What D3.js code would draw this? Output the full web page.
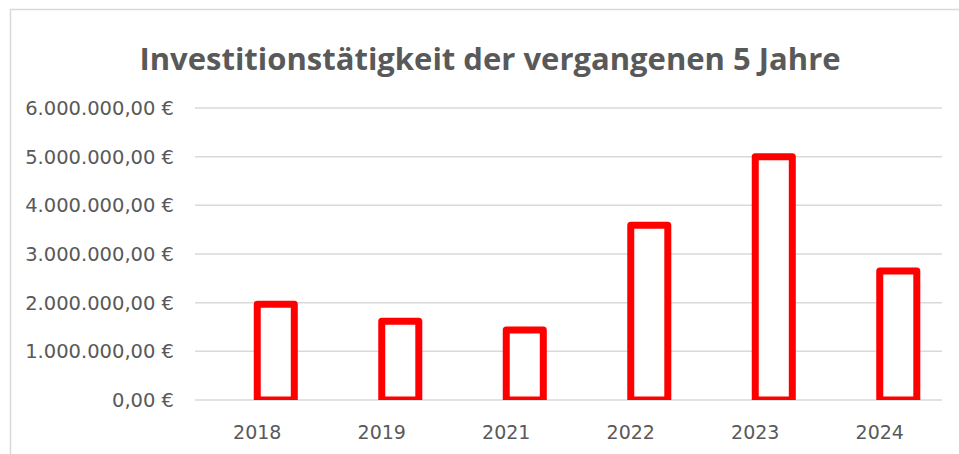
<!DOCTYPE html>
<html>
<head>
<meta charset="utf-8">
<script src="https://cdn.jsdelivr.net/npm/d3@7"></script>
<style>
  body { margin: 0; background: #fff; }
  svg { display: block; }
</style>
</head>
<body>
<svg id="chart" width="959" height="454"></svg>
<script>
const years = ['2018', '2019', '2021', '2022', '2023', '2024'];
const investments = [1970000, 1620000, 1440000, 3590000, 5000000, 2650000];
const yTicks = [0, 1000000, 2000000, 3000000, 4000000, 5000000, 6000000];
const title = 'Investitionstätigkeit der vergangenen 5 Jahre';

const svg = d3.select('#chart');
const width = +svg.attr('width');
const height = +svg.attr('height');
const margin = { top: 108, right: 17, bottom: 54, left: 195 };
const textColor = '#595959';

const de = d3.formatLocale({
  decimal: ',',
  thousands: '.',
  grouping: [3],
  currency: ['', ' €']
});
const fmt = de.format('$,.2f');

// chart area border
svg.append('rect')
  .attr('x', 10.5).attr('y', 9.5)
  .attr('width', width).attr('height', height)
  .attr('fill', 'none')
  .attr('stroke', '#d9d9d9')
  .attr('stroke-width', 1.5);

svg.append('text')
  .attr('x', 490)
  .attr('y', 70)
  .attr('text-anchor', 'middle')
  .style('font-family', '"Open Sans", sans-serif')
  .style('font-weight', 'bold')
  .style('font-size', '31px')
  .attr('fill', textColor)
  .text(title);

const x = d3.scaleBand()
  .domain(years)
  .range([margin.left, width - margin.right]);

const y = d3.scaleLinear()
  .domain([0, 6000000])
  .range([height - margin.bottom, margin.top]);

// gridlines
svg.append('g')
  .selectAll('line')
  .data(yTicks)
  .enter()
  .append('line')
  .attr('x1', margin.left)
  .attr('x2', width - margin.right)
  .attr('y1', d => y(d))
  .attr('y2', d => y(d))
  .attr('stroke', '#d9d9d9')
  .attr('stroke-width', 1.5);

// y labels
svg.append('g')
  .selectAll('text')
  .data(yTicks)
  .enter()
  .append('text')
  .attr('x', 174)
  .attr('y', d => y(d))
  .attr('dy', '0.36em')
  .attr('text-anchor', 'end')
  .style('font-family', '"DejaVu Sans", sans-serif')
  .style('font-size', '19.5px')
  .attr('fill', textColor)
  .text(d => fmt(d));

// x labels
svg.append('g')
  .selectAll('text')
  .data(years)
  .enter()
  .append('text')
  .attr('x', d => x(d) + x.bandwidth() / 2)
  .attr('y', 439)
  .attr('text-anchor', 'middle')
  .style('font-family', '"DejaVu Sans", sans-serif')
  .style('font-size', '19px')
  .attr('fill', textColor)
  .text(d => d);

// bars sit in the second slot of each category (first slot is empty)
const slot = d3.scaleBand()
  .domain(['a', 'b'])
  .range([0, x.bandwidth()])
  .paddingOuter(0.68)
  .paddingInner(0);

svg.append('clipPath')
  .attr('id', 'plot-clip')
  .append('rect')
  .attr('x', 0).attr('y', 0)
  .attr('width', width)
  .attr('height', y(0));

svg.append('g')
  .attr('clip-path', 'url(#plot-clip)')
  .selectAll('rect')
  .data(years)
  .enter()
  .append('rect')
  .attr('x', d => x(d) + slot('b'))
  .attr('width', slot.bandwidth())
  .attr('y', (d, i) => y(investments[i]))
  .attr('height', (d, i) => y(0) - y(investments[i]))
  .attr('fill', '#fff')
  .attr('stroke', '#ff0000')
  .attr('stroke-width', 7)
  .attr('stroke-linejoin', 'round');
</script>
</body>
</html>
